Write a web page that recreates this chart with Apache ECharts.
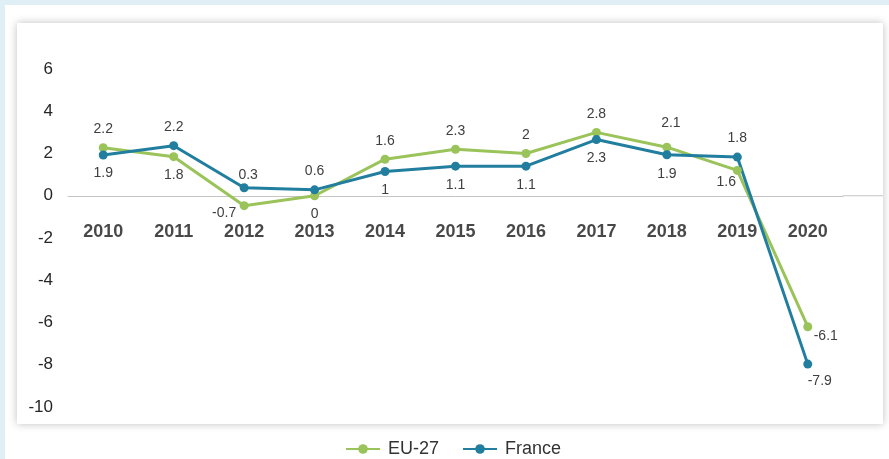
<!DOCTYPE html>
<html lang="en">
<head>
<meta charset="UTF-8">
<title>EU-27 / France</title>
<script src="https://cdn.jsdelivr.net/npm/echarts@6/dist/echarts.min.js"></script>
<style>
  html, body { margin: 0; padding: 0; }
  body { width: 889px; height: 459px; background: #e0eef5; position: relative; overflow: hidden; }
  .sheet { position: absolute; left: 5px; top: 5px; right: 0; bottom: 0; background: #fff; }
  .card { position: absolute; left: 17px; top: 23px; width: 866px; height: 401px; background: #fff;
          box-shadow: 0 0 8px rgba(0,0,0,0.25); }
  #chart { position: absolute; left: 0; top: 0; width: 889px; height: 459px; }
</style>
</head>
<body>
<div class="sheet"></div>
<div class="card"></div>
<div id="chart"></div>
<script>
var years = ['2010', '2011', '2012', '2013', '2014', '2015', '2016', '2017', '2018', '2019', '2020'];
// plotted values (as drawn)
var euValues = [2.27, 1.85, -0.47, 0.0, 1.73, 2.2, 2.0, 3.0, 2.3, 1.2, -6.2];
var frValues = [1.93, 2.37, 0.38, 0.28, 1.15, 1.4, 1.4, 2.66, 1.94, 1.83, -7.97];
// data label texts
var euLabels = ['2.2', '1.8', '-0.7', '0', '1.6', '2.3', '2', '2.8', '2.1', '1.6', '-6.1'];
var frLabels = ['1.9', '2.2', '0.3', '0.6', '1', '1.1', '1.1', '2.3', '1.9', '1.8', '-7.9'];
var yMin = -10, yMax = 6, yStep = 2;

var FONT = '"Liberation Sans", Arial, sans-serif';
var GREEN = '#9ac35a';
var TEAL = '#217e9e';

// label placement: 't' above, 'b' below, or [dx, dy] from the point
var euPlace = ['t', 'b', [-20, 7], 'b', 't', 't', 't', 't', [4, -24], [-11, 12], [18, 9]];
var frPlace = ['b', 't', [4, -13], 't', 'b', 'b', 'b', 'b', [0, 19], 't', [12, 17]];

function buildData(values, labels, place) {
    return values.map(function (v, i) {
        var p = place[i];
        var label = { formatter: labels[i] };
        if (p === 't') { label.position = 'top'; label.distance = 7; }
        else if (p === 'b') { label.position = 'bottom'; label.distance = 7; }
        else { label.position = 'inside'; label.offset = p; }
        return { value: v, label: label };
    });
}

function lineSeries(name, color, data) {
    return {
        name: name,
        type: 'line',
        data: data,
        symbol: 'circle',
        symbolSize: 9,
        lineStyle: { color: color, width: 3 },
        itemStyle: { color: color },
        label: { show: true, color: '#404040', fontSize: 14, fontFamily: FONT },
        emphasis: { disabled: true }
    };
}

var myChart = echarts.init(document.getElementById('chart'));
var option = {
    animation: false,
    backgroundColor: 'transparent',
    grid: { left: 68, right: 46, top: 69, bottom: 52 },
    legend: {
        left: 340,
        top: 435,
        itemWidth: 34,
        itemHeight: 12,
        itemGap: 23,
        textStyle: { color: '#333', fontSize: 18, fontFamily: FONT, padding: [0, 0, 0, 3] },
        data: ['EU-27', 'France']
    },
    xAxis: {
        type: 'category',
        data: years,
        axisLine: { onZero: true, lineStyle: { color: '#c4c4c4', width: 1 } },
        axisTick: { show: false },
        axisLabel: { show: false }
    },
    yAxis: {
        type: 'value',
        min: yMin,
        max: yMax,
        interval: yStep,
        axisLine: { show: false },
        axisTick: { show: false },
        splitLine: { show: false },
        axisLabel: { margin: 15, color: '#262626', fontSize: 17, fontFamily: FONT }
    },
    series: [
        // year labels sitting just under the zero line
        {
            name: 'years',
            type: 'scatter',
            silent: true,
            symbolSize: 1,
            itemStyle: { color: 'rgba(0,0,0,0)' },
            data: years.map(function (y) { return [y, 0]; }),
            label: {
                show: true,
                position: 'bottom',
                distance: 27,
                formatter: function (p) { return p.value[0]; },
                color: '#1a1a1a', fontSize: 18, fontWeight: 'bold', fontFamily: FONT
            },
            z: 1
        },
        lineSeries('EU-27', GREEN, buildData(euValues, euLabels, euPlace)),
        lineSeries('France', TEAL, buildData(frValues, frLabels, frPlace))
    ]
};
myChart.setOption(option);

// zero line runs on to the right edge of the card
var y0 = myChart.convertToPixel({ yAxisIndex: 0 }, 0);
var xEnd = myChart.convertToPixel({ xAxisIndex: 0 }, years[years.length - 1]) + 35;
myChart.setOption({
    graphic: [{
        type: 'line',
        z: 0,
        shape: { x1: xEnd, y1: y0, x2: 883, y2: y0 },
        style: { stroke: '#c4c4c4', lineWidth: 1 }
    }]
});
</script>
</body>
</html>
